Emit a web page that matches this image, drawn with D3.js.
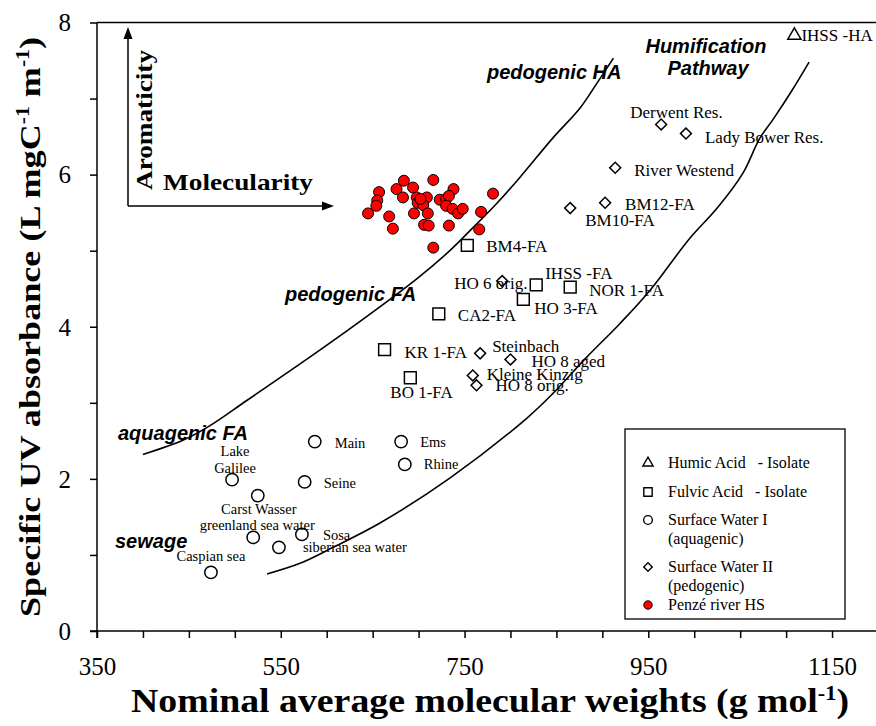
<!DOCTYPE html>
<html><head><meta charset="utf-8">
<script src="https://cdn.jsdelivr.net/npm/d3@7"></script>
<style>body{margin:0;background:#fff;} svg{display:block;}</style>
</head><body><svg id="c" width="876" height="726"></svg>
<script>
// ---------- DATA ----------
const xTickLabels = [350, 550, 750, 950, 1150];
const yTickLabels = [0, 2, 4, 6, 8];

const humicAcid = [
  { name: "IHSS -HA", mw: 1109, suva: 7.83 }
];
const fulvicAcid = [
  { name: "BM4-FA", mw: 753, suva: 5.07 },
  { name: "IHSS -FA", mw: 828, suva: 4.55 },
  { name: "NOR 1-FA", mw: 865, suva: 4.52 },
  { name: "HO 3-FA", mw: 814, suva: 4.36 },
  { name: "CA2-FA", mw: 722, suva: 4.17 },
  { name: "KR 1-FA", mw: 663, suva: 3.70 },
  { name: "BO 1-FA", mw: 691, suva: 3.33 }
];
const surfaceWaterI = [
  { name: "Main", mw: 587, suva: 2.49 },
  { name: "Ems", mw: 681, suva: 2.49 },
  { name: "Rhine", mw: 685, suva: 2.19 },
  { name: "Lake Galilee", mw: 497, suva: 1.99 },
  { name: "Seine", mw: 576, suva: 1.96 },
  { name: "Carst Wasser", mw: 525, suva: 1.78 },
  { name: "greenland sea water", mw: 520, suva: 1.23 },
  { name: "Sosa", mw: 573, suva: 1.27 },
  { name: "siberian sea water", mw: 548, suva: 1.10 },
  { name: "Caspian sea", mw: 474, suva: 0.77 }
];
const surfaceWaterII = [
  { name: "Derwent Res.", mw: 964, suva: 6.66 },
  { name: "Lady Bower Res.", mw: 991, suva: 6.54 },
  { name: "River Westend", mw: 914, suva: 6.09 },
  { name: "BM12-FA", mw: 903, suva: 5.63 },
  { name: "BM10-FA", mw: 865, suva: 5.56 },
  { name: "HO 6 orig.", mw: 791, suva: 4.60 },
  { name: "Steinbach", mw: 767, suva: 3.65 },
  { name: "HO 8 aged", mw: 800, suva: 3.57 },
  { name: "Kleine Kinzig", mw: 759, suva: 3.36 },
  { name: "HO 8 orig.", mw: 763, suva: 3.23 }
];
const penzeMW = [684, 716, 657, 676, 694, 738, 781, 655, 654, 683, 698, 709, 723, 730, 733, 699, 705, 730, 737, 743, 748, 768, 645, 668, 695, 710, 672, 706, 711, 733, 766, 716, 702];
const penzeSUVA = [5.92, 5.93, 5.77, 5.81, 5.83, 5.81, 5.75, 5.66, 5.59, 5.70, 5.70, 5.70, 5.67, 5.68, 5.72, 5.63, 5.60, 5.59, 5.55, 5.49, 5.55, 5.51, 5.49, 5.45, 5.49, 5.49, 5.29, 5.34, 5.33, 5.33, 5.28, 5.04, 5.68];

// boundary curves
const curveLeftMW   = [400, 444, 473, 513, 604, 698, 734, 759, 785, 810, 846, 876, 894, 912];
const curveLeftSUVA = [2.32, 2.51, 2.70, 3.03, 3.79, 4.63, 5.00, 5.30, 5.62, 5.96, 6.48, 6.88, 7.20, 7.53];
const curveRightMW   = [535, 571, 607, 658, 734, 818, 846, 883, 919, 952, 995, 1025, 1053, 1071, 1086, 1106, 1125];
const curveRightSUVA = [0.75, 0.89, 1.10, 1.42, 2.01, 2.80, 3.12, 3.60, 4.04, 4.48, 5.16, 5.56, 6.02, 6.47, 6.73, 7.10, 7.48];

// ---------- LAYOUT (label offsets in px, not data) ----------
const labelLayout = {
  "IHSS -HA": [7, 6, "start"],
  "BM4-FA": [19, 7, "start"], "IHSS -FA": [9, -6, "start"], "NOR 1-FA": [19, 9, "start"],
  "HO 3-FA": [11, 15, "start"], "CA2-FA": [19, 7, "start"], "KR 1-FA": [20, 8, "start"],
  "BO 1-FA": [-20, 20, "start"],
  "Main": [20, 6, "start"], "Ems": [19, 5, "start"], "Rhine": [19, 5, "start"],
  "Seine": [19, 6, "start"], "Carst Wasser": [1, 18, "middle"],
  "greenland sea water": [4, -7, "middle"], "Sosa": [21, 6, "start"],
  "siberian sea water": [24, 5, "start"], "Caspian sea": [0, -11, "middle"],
  "Derwent Res.": [-31, -6, "start"], "Lady Bower Res.": [19, 9, "start"],
  "River Westend": [19, 8, "start"], "BM12-FA": [20, 7, "start"], "BM10-FA": [15, 18, "start"],
  "HO 6 orig.": [-48, 8, "start"], "Steinbach": [12, -1, "start"], "HO 8 aged": [21, 8, "start"],
  "Kleine Kinzig": [14, 5, "start"], "HO 8 orig.": [19, 6, "start"]
};

// ---------- CHART ----------
const svg = d3.select("#c");
const serif = "'Liberation Serif','Times New Roman',serif";
const sans = "'Liberation Sans',Arial,sans-serif";

const x = d3.scaleLinear().domain([350, 1200]).range([97, 878]);
const y = d3.scaleLinear().domain([0, 8]).range([631, 22.5]);

// frame (top/right)
svg.append("path")
  .attr("d", `M${x(350)},${y(8)}H${x(1200)}V${y(0)}`)
  .attr("fill", "none").attr("stroke", "#000").attr("stroke-width", 1.5);

// axes
const xAxis = d3.axisBottom(x)
  .tickValues(d3.range(350, 1201, 50))
  .tickSize(7).tickSizeOuter(0)
  .tickFormat(d => xTickLabels.includes(d) ? d : "");
const gx = svg.append("g").attr("transform", `translate(0,${y(0)})`).call(xAxis);
gx.select(".domain").attr("stroke-width", 1.5).attr("d", `M${x(350) - 7},0H${x(1200)}`);
gx.selectAll(".tick line").attr("stroke-width", 1.5);
gx.selectAll(".tick text").attr("y", 44).attr("dy", 0)
  .attr("font-family", serif).attr("font-size", 25).attr("fill", "#000");

const yAxis = d3.axisLeft(y)
  .tickValues(d3.range(0, 9, 1))
  .tickSize(7).tickSizeOuter(0)
  .tickFormat(d => yTickLabels.includes(d) ? d : "");
const gy = svg.append("g").attr("transform", `translate(${x(350)},0)`).call(yAxis);
gy.select(".domain").attr("stroke-width", 1.5).attr("d", `M0,${y(8)}V${y(0) + 7}`);
gy.selectAll(".tick line").attr("stroke-width", 1.5);
gy.selectAll(".tick text").attr("x", -26).attr("dy", "0.33em")
  .attr("font-family", serif).attr("font-size", 25).attr("fill", "#000");

// axis titles
const xt = svg.append("text")
  .attr("x", 131).attr("y", 712)
  .attr("font-family", serif).attr("font-weight", "bold").attr("font-size", 34)
  .attr("textLength", 718).attr("lengthAdjust", "spacingAndGlyphs");
xt.append("tspan").text("Nominal average molecular weights (g mol");
xt.append("tspan").attr("dy", -12).attr("font-size", 20).text("-1");
xt.append("tspan").attr("dy", 12).text(")");

const yt = svg.append("text")
  .attr("transform", "translate(40,617) rotate(-90)")
  .attr("font-family", serif).attr("font-weight", "bold").attr("font-size", 30)
  .attr("textLength", 580).attr("lengthAdjust", "spacingAndGlyphs");
yt.append("tspan").text("Specific UV absorbance (L mgC");
yt.append("tspan").attr("dy", -11).attr("font-size", 18).text("-1");
yt.append("tspan").attr("dy", 11).text(" m");
yt.append("tspan").attr("dy", -11).attr("font-size", 18).text("-1");
yt.append("tspan").attr("dy", 11).text(")");

// Aromaticity / Molecularity arrows
svg.append("path").attr("d", "M128,206V36 M128,206H324")
  .attr("fill", "none").attr("stroke", "#000").attr("stroke-width", 1.5);
svg.append("path").attr("d", "M128,27L123.5,39H132.5Z").attr("fill", "#000");
svg.append("path").attr("d", "M334,206L322,201.5V210.5Z").attr("fill", "#000");
svg.append("text").attr("transform", "translate(152,190) rotate(-90)")
  .attr("font-family", serif).attr("font-weight", "bold").attr("font-size", 24)
  .attr("textLength", 140).attr("lengthAdjust", "spacingAndGlyphs").text("Aromaticity");
svg.append("text").attr("x", 163).attr("y", 190)
  .attr("font-family", serif).attr("font-weight", "bold").attr("font-size", 24)
  .attr("textLength", 150).attr("lengthAdjust", "spacingAndGlyphs").text("Molecularity");

// curves
const line = d3.line().x(d => x(d[0])).y(d => y(d[1])).curve(d3.curveCatmullRom.alpha(0.5));
[[curveLeftMW, curveLeftSUVA], [curveRightMW, curveRightSUVA]].forEach(([mx, sy]) => {
  svg.append("path").attr("d", line(d3.zip(mx, sy)))
    .attr("fill", "none").attr("stroke", "#000").attr("stroke-width", 1.6);
});

// region labels
const regionLabels = [
  ["pedogenic HA", 487, 79, "start"],
  ["Humification", 706, 53, "middle"],
  ["Pathway", 708, 75, "middle"],
  ["pedogenic FA", 285, 301, "start"],
  ["aquagenic FA", 118, 440, "start"],
  ["sewage", 115, 548, "start"]
];
svg.selectAll("text.region").data(regionLabels).join("text").attr("class", "region")
  .attr("x", d => d[1]).attr("y", d => d[2]).attr("text-anchor", d => d[3])
  .attr("font-family", sans).attr("font-weight", "bold").attr("font-style", "italic")
  .attr("font-size", 20).text(d => d[0]);

// markers
const sym = (type, size) => d3.symbol().type(type).size(size)();
function drawSeries(data, type, size, rot, fontSize) {
  const g = svg.append("g");
  g.selectAll("path").data(data).join("path")
    .attr("d", sym(type, size))
    .attr("transform", d => `translate(${x(d.mw)},${y(d.suva)}) rotate(${rot})`)
    .attr("fill", "#fff").attr("stroke", "#000").attr("stroke-width", 1.5);
  data.forEach(d => {
    const [dx, dy, anchor] = labelLayout[d.name] || [15, 5, "start"];
    const px = x(d.mw) + dx, py = y(d.suva) + dy;
    if (d.name === "Lake Galilee") {
      g.append("text").attr("x", px).attr("y", py).attr("text-anchor", "middle")
        .attr("font-family", serif).attr("font-size", fontSize)
        .selectAll("tspan").data(["Lake", "Galilee"]).join("tspan")
        .attr("x", x(d.mw) + 3).attr("y", (t, i) => y(d.suva) - 24 + i * 17).text(t => t);
    } else {
      g.append("text").attr("x", px).attr("y", py).attr("text-anchor", anchor)
        .attr("font-family", serif).attr("font-size", fontSize).text(d.name);
    }
  });
}
drawSeries(humicAcid, d3.symbolTriangle, 75, 0, 17);
drawSeries(fulvicAcid, d3.symbolSquare, 140, 0, 17);
drawSeries(surfaceWaterI, d3.symbolCircle, 120, 0, 14.5);
drawSeries(surfaceWaterII, d3.symbolSquare, 60, 45, 17);

svg.append("g").selectAll("circle").data(d3.zip(penzeMW, penzeSUVA)).join("circle")
  .attr("cx", d => x(d[0])).attr("cy", d => y(d[1])).attr("r", 5.5)
  .attr("fill", "#f00").attr("stroke", "#000").attr("stroke-width", 1);

// legend
const lg = svg.append("g");
lg.append("rect").attr("x", 625).attr("y", 429).attr("width", 220).attr("height", 190)
  .attr("fill", "#fff").attr("stroke", "#000").attr("stroke-width", 1.3);
const legendItems = [
  { type: d3.symbolTriangle, size: 45, rot: 0, cy: 463, lines: ["Humic Acid   - Isolate"], fill: "#fff" },
  { type: d3.symbolSquare, size: 70, rot: 0, cy: 492, lines: ["Fulvic Acid   - Isolate"], fill: "#fff" },
  { type: d3.symbolCircle, size: 60, rot: 0, cy: 520, lines: ["Surface Water I", "(aquagenic)"], fill: "#fff" },
  { type: d3.symbolSquare, size: 36, rot: 45, cy: 567, lines: ["Surface Water II", "(pedogenic)"], fill: "#fff" },
  { type: d3.symbolCircle, size: 55, rot: 0, cy: 605, lines: ["Penzé river HS"], fill: "#f00" }
];
legendItems.forEach(it => {
  lg.append("path").attr("d", sym(it.type, it.size))
    .attr("transform", `translate(648,${it.cy}) rotate(${it.rot})`)
    .attr("fill", it.fill).attr("stroke", "#000").attr("stroke-width", it.fill === "#f00" ? 1 : 1.4);
  it.lines.forEach((t, i) => {
    lg.append("text").attr("x", 668).attr("y", it.cy + 5 + i * 19)
      .attr("font-family", serif).attr("font-size", 16).attr("xml:space", "preserve")
      .style("white-space", "pre").text(t);
  });
});
</script></body></html>
